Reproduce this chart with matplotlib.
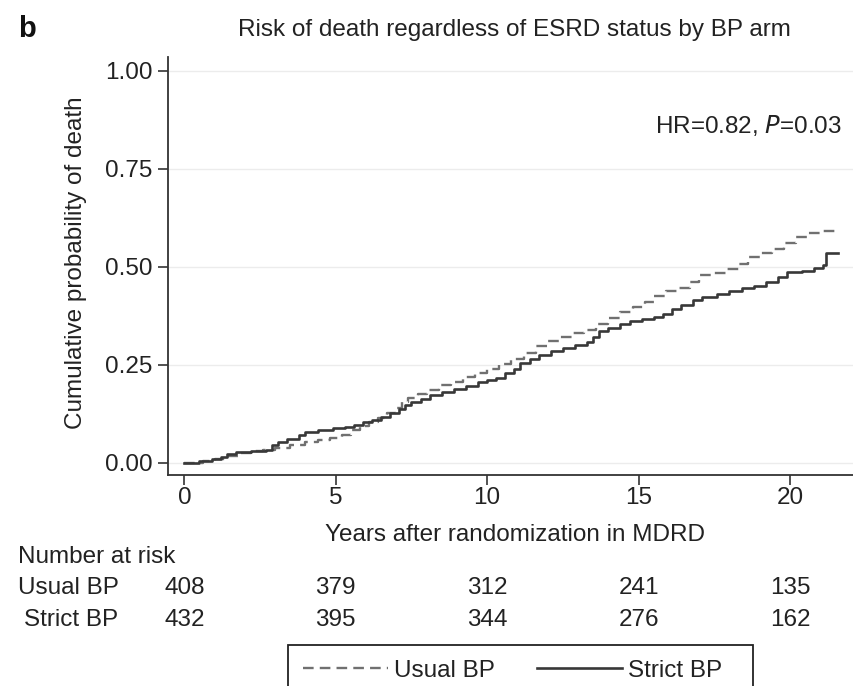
import matplotlib
matplotlib.use("Agg")
import matplotlib.pyplot as plt
import matplotlib.transforms as mtransforms
from matplotlib.patches import Rectangle

plt.rcParams['font.family'] = ['Liberation Sans', 'DejaVu Sans']
FS = 17.5

# cumulative probability of death, step points (years, probability)
t_strict = [0, 0.5, 0.9, 1.2, 1.4, 1.7, 2.2, 2.7, 2.9, 3.1, 3.4, 3.8, 4.0,
            4.4, 4.9, 5.3, 5.6, 5.9, 6.2, 6.5, 6.8, 7.1, 7.3, 7.5, 7.8, 8.1,
            8.5, 8.9, 9.3, 9.7, 10.0, 10.3, 10.6, 10.9, 11.1, 11.4, 11.7,
            12.1, 12.5, 12.9, 13.3, 13.5, 13.7, 14.0, 14.4, 14.7, 15.1, 15.5,
            15.8, 16.1, 16.4, 16.8, 17.1, 17.6, 18.0, 18.4, 18.8, 19.2, 19.6,
            19.9, 20.4, 20.8, 21.1, 21.2, 21.6]
p_strict = [0.0, 0.005, 0.01, 0.016, 0.022, 0.028, 0.031, 0.033, 0.045,
            0.054, 0.062, 0.072, 0.078, 0.085, 0.088, 0.092, 0.097, 0.103,
            0.11, 0.118, 0.127, 0.138, 0.148, 0.155, 0.163, 0.172, 0.18,
            0.188, 0.197, 0.205, 0.21, 0.216, 0.228, 0.24, 0.255, 0.266,
            0.276, 0.284, 0.293, 0.3, 0.308, 0.322, 0.335, 0.345, 0.355,
            0.362, 0.367, 0.372, 0.38, 0.392, 0.403, 0.415, 0.424, 0.43,
            0.438, 0.446, 0.452, 0.462, 0.475, 0.486, 0.49, 0.497, 0.505,
            0.535, 0.535]

t_usual = [0, 0.6, 1.0, 1.4, 1.8, 2.2, 2.6, 3.0, 3.5, 4.0, 4.4, 4.8, 5.2,
           5.5, 5.8, 6.1, 6.4, 6.7, 7.0, 7.2, 7.4, 7.7, 8.0, 8.4, 8.8, 9.2,
           9.6, 10.0, 10.4, 10.8, 11.2, 11.6, 12.0, 12.4, 12.8, 13.2, 13.6,
           14.0, 14.4, 14.8, 15.2, 15.5, 15.9, 16.3, 16.7, 17.0, 17.5, 17.9,
           18.3, 18.6, 19.0, 19.4, 19.8, 20.2, 20.6, 21.0, 21.6]
p_usual = [0.0, 0.004, 0.01, 0.018, 0.025, 0.03, 0.034, 0.038, 0.045, 0.052,
           0.058, 0.063, 0.07, 0.085, 0.095, 0.105, 0.115, 0.128, 0.14,
           0.155, 0.165, 0.175, 0.185, 0.198, 0.207, 0.22, 0.228, 0.24,
           0.252, 0.265, 0.28, 0.298, 0.31, 0.322, 0.332, 0.34, 0.355, 0.37,
           0.385, 0.398, 0.41, 0.425, 0.437, 0.445, 0.46, 0.478, 0.485,
           0.495, 0.508, 0.525, 0.535, 0.545, 0.56, 0.575, 0.585, 0.59, 0.59]

risk_years = [0, 5, 10, 15, 20]
risk_usual = [408, 379, 312, 241, 135]
risk_strict = [432, 395, 344, 276, 162]
y_ticks = [0.0, 0.25, 0.5, 0.75, 1.0]

TXT = '#222222'
W, H = 854, 686
fig = plt.figure(figsize=(W / 100, H / 100), dpi=100)
ax = fig.add_axes([168 / W, 1 - 475 / H, (853 - 168) / W, (475 - 57) / H])

ax.set_xlim(-0.54, 22.08)
ax.set_ylim(-0.031, 1.035)

for y in y_ticks:
    ax.axhline(y, color='#ececec', lw=1.0, zorder=0)

ax.plot(t_usual, p_usual, drawstyle='steps-post', color='#707070', lw=1.7,
        linestyle=(0, (4.5, 2.6)), label='Usual BP')
ax.plot(t_strict, p_strict, drawstyle='steps-post', color='#383838', lw=1.9,
        label='Strict BP')

for side in ['top', 'right']:
    ax.spines[side].set_visible(False)
for side in ['left', 'bottom']:
    ax.spines[side].set_color('#333333')
    ax.spines[side].set_linewidth(1.3)

ax.set_xticks(risk_years)
ax.set_yticks(y_ticks)
ax.set_yticklabels(['%.2f' % v for v in y_ticks])
ax.tick_params(axis='both', direction='out', length=7, width=1.2,
               color='#333333', labelsize=FS, labelcolor=TXT)
ax.tick_params(axis='y', pad=4)
ax.tick_params(axis='x', pad=2)

ax.text(21.7, 0.86, r'HR=0.82, $\it{P}$=0.03', ha='right', va='center',
        fontsize=FS, color=TXT)

fig.text(514 / W, 1 - 30 / H, 'Risk of death regardless of ESRD status by BP arm',
         ha='center', va='center', fontsize=FS, color=TXT)
fig.text(18 / W, 1 - 29 / H, 'b', ha='left', va='center', fontsize=21,
         fontweight='bold', color='#111111')
fig.text(515 / W, 1 - 535 / H, 'Years after randomization in MDRD',
         ha='center', va='center', fontsize=FS, color=TXT)
fig.text(76 / W, 1 - 263 / H, 'Cumulative probability of death', rotation=90,
         ha='center', va='center', fontsize=FS, color=TXT)

# number at risk table under the x axis
trans = mtransforms.blended_transform_factory(ax.transData, fig.transFigure)
fig.text(18 / W, 1 - 557 / H, 'Number at risk', ha='left', va='center',
         fontsize=FS, color=TXT)
fig.text(18 / W, 1 - 588 / H, 'Usual BP', ha='left', va='center',
         fontsize=FS, color=TXT)
fig.text(24 / W, 1 - 620 / H, 'Strict BP', ha='left', va='center',
         fontsize=FS, color=TXT)
for yr, nu, ns in zip(risk_years, risk_usual, risk_strict):
    ax.text(yr, 1 - 588 / H, str(nu), transform=trans, ha='center',
            va='center', fontsize=FS, color=TXT, clip_on=False)
    ax.text(yr, 1 - 620 / H, str(ns), transform=trans, ha='center',
            va='center', fontsize=FS, color=TXT, clip_on=False)

# legend; its box runs past the bottom edge of the figure
leg = fig.legend(loc='upper left', bbox_to_anchor=(288 / W, 1 - 645 / H),
                 ncol=2, fontsize=FS, frameon=False,
                 handlelength=3.5, handletextpad=0.25, columnspacing=1.75,
                 borderpad=0.6, borderaxespad=0)
for txt in leg.get_texts():
    txt.set_color(TXT)
box_top, box_bottom = 645, H + 10
fig.patches.append(Rectangle((288 / W, 1 - box_bottom / H), (753 - 288) / W,
                             (box_bottom - box_top) / H,
                             transform=fig.transFigure, fill=False,
                             edgecolor=TXT, lw=1.3))

fig.savefig('out.png', dpi=100)
